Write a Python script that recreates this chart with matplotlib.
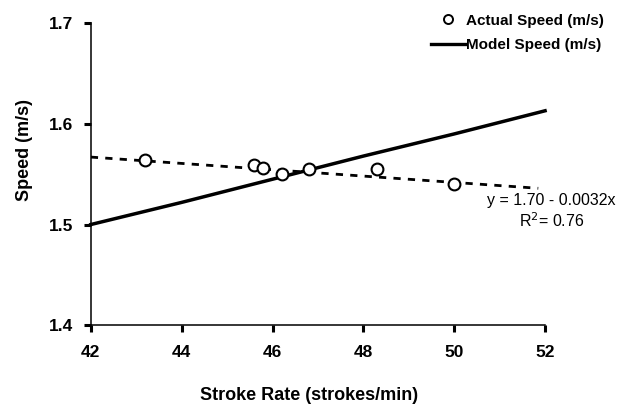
import matplotlib.pyplot as plt
from matplotlib.lines import Line2D

plt.rcParams['font.family'] = ['Liberation Sans', 'DejaVu Sans']

# actual speed measurements
stroke_rate = [43.2, 45.6, 45.8, 46.2, 46.8, 48.3, 50.0]
actual_speed = [1.564, 1.559, 1.556, 1.550, 1.555, 1.555, 1.540]

# model speed line
model_rate = [42, 44, 46, 48, 50, 52]
model_speed = [1.500, 1.522, 1.545, 1.568, 1.590, 1.613]

# linear trend of actual speed (end points)
trend_rate = [42, 51.85]
trend_speed = [1.567, 1.536]

x_ticks = [42, 44, 46, 48, 50, 52]
y_ticks = [1.4, 1.5, 1.6, 1.7]


def main():
    fig = plt.figure(figsize=(6.18, 4.07), dpi=100)
    ax = fig.add_axes([0.147, 0.201, 0.735, 0.742])

    ax.plot(trend_rate, trend_speed, color='black', lw=2.0, linestyle=(0, (2.6, 2.6)), zorder=2)
    ax.plot(model_rate, model_speed, color='black', lw=2.5, zorder=3, clip_on=False)
    ax.plot(stroke_rate, actual_speed, 'o', ms=8.5, mfc='white', mec='black', mew=1.5, zorder=4)

    ax.set_xlim(42, 52)
    ax.set_ylim(1.4, 1.7)
    ax.set_xticks(x_ticks)
    ax.set_yticks(y_ticks)
    ax.set_xticklabels([str(t) for t in x_ticks], fontsize=12.5, fontweight='bold')
    ax.set_yticklabels(['%.1f' % t for t in y_ticks], fontsize=12.5, fontweight='bold')
    ax.tick_params(direction='out', length=5, width=2.2)
    ax.tick_params(axis='x', pad=9)
    ax.tick_params(axis='y', pad=8)

    for side in ['top', 'right']:
        ax.spines[side].set_visible(False)
    for side in ['left', 'bottom']:
        ax.spines[side].set_linewidth(1.1)

    ax.set_xlabel('Stroke Rate (strokes/min)', fontsize=13, fontweight='bold')
    ax.set_ylabel('Speed (m/s)', fontsize=13, fontweight='bold')
    ax.xaxis.set_label_coords(0.48, -0.205)
    ax.yaxis.set_label_coords(-0.128, 0.58)

    handles = [
        Line2D([], [], marker='o', ls='none', ms=6.5, mfc='white', mec='black', mew=1.4),
        Line2D([], [], color='black', lw=2.4),
    ]
    fig.legend(handles, ['Actual Speed (m/s)', 'Model Speed (m/s)'],
               loc='upper right', bbox_to_anchor=(1.0, 1.0), frameon=False,
               prop={'weight': 'bold', 'size': 11}, handlelength=2.2,
               handletextpad=0.1, labelspacing=0.7)

    fig.text(0.892, 0.508, 'y = 1.70 - 0.0032x', ha='center', va='center', fontsize=11.5)
    fig.text(0.893, 0.459, 'R$^2$= 0.76', ha='center', va='center', fontsize=11.5)

    fig.savefig('out.png', dpi=100)


if __name__ == '__main__':
    main()
